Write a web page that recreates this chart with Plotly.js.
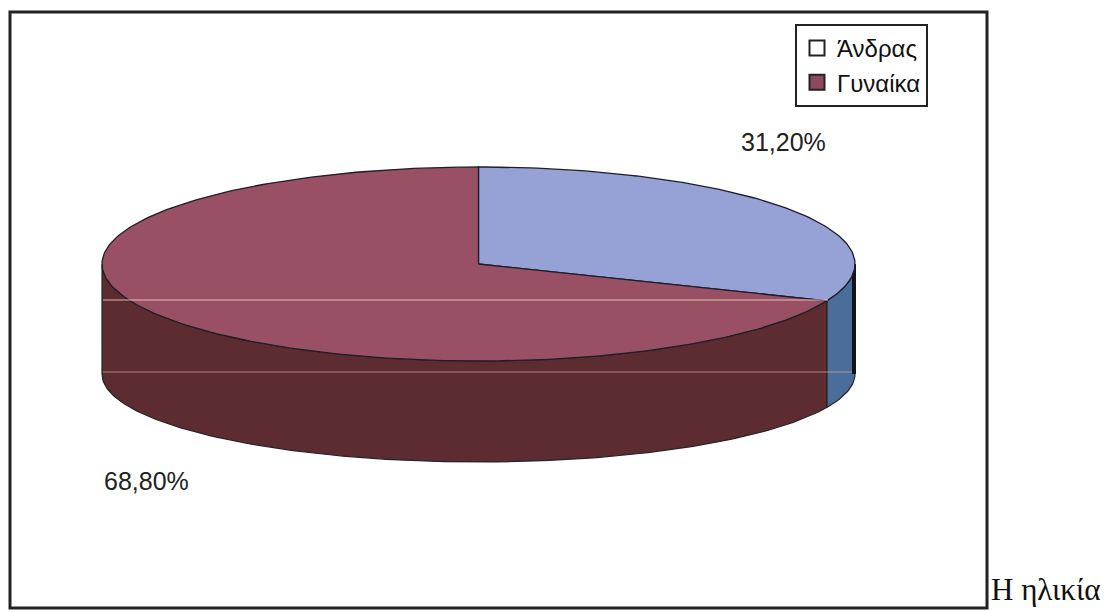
<!DOCTYPE html>
<html>
<head>
<meta charset="utf-8">
<script src="https://cdn.plot.ly/plotly-3.0.1.min.js"></script>
<style>html,body{margin:0;padding:0;background:#fff;}#chart{width:1109px;height:612px;}</style>
</head>
<body>
<div id="chart"></div>
<script>
// Data
const labels = ['Άνδρας', 'Γυναίκα'];
const values = [31.2, 68.8];
const sideTitle = 'Η ηλικία';

// Styles
const topColors = ['#96a1d6', '#9a5064'];
const sideColors = ['#4a6d99', '#5d2c30'];
const legendColors = ['#ffffff', '#8c4a5c'];
const labelPos = [[783, 142], [146, 481]];

// Geometry (pixel space)
const cx = 478.5, cy = 264, rx = 376.5, ry = 97;
const sideDepth = 110, bottomRy = 88;
function pt(deg) {
  const r = deg * Math.PI / 180;
  return [cx + rx * Math.sin(r), cy - ry * Math.cos(r)];
}
function ptB(deg) {
  const r = deg * Math.PI / 180;
  return [cx + rx * Math.sin(r), cy + sideDepth - bottomRy * Math.cos(r)];
}
function arc(a0, a1, f) {
  const pts = [];
  const n = Math.max(2, Math.ceil(Math.abs(a1 - a0)));
  for (let i = 0; i <= n; i++) pts.push(f(a0 + (a1 - a0) * i / n));
  return pts;
}

const total = values.reduce((a, b) => a + b, 0);
const sides = [], tops = [], annotations = [];
let start = 0;
values.forEach((v, i) => {
  const a0 = start, a1 = start + v / total * 360;
  start = a1;
  // visible front side
  const s0 = Math.max(a0, 90), s1 = Math.min(a1, 270);
  if (s1 > s0) {
    const upper = arc(s0, s1, pt);
    const lower = arc(s1, s0, ptB);
    const poly = upper.concat(lower);
    poly.push(upper[0]);
    sides.push({
      type: 'scatter', mode: 'lines', fill: 'toself',
      x: poly.map(p => p[0]), y: poly.map(p => p[1]),
      fillcolor: sideColors[i], line: {color: '#2a2226', width: 1.2},
      hoverinfo: 'skip', showlegend: false
    });
  }
  const poly = [[cx, cy]].concat(arc(a0, a1, pt));
  poly.push([cx, cy]);
  tops.push({
    type: 'scatter', mode: 'lines', fill: 'toself',
    x: poly.map(p => p[0]), y: poly.map(p => p[1]),
    fillcolor: topColors[i], line: {color: '#1e1e28', width: 1.3},
    hoverinfo: 'skip', showlegend: false
  });
  annotations.push({
    x: labelPos[i][0], y: labelPos[i][1], xref: 'x', yref: 'y',
    text: (v / total * 100).toFixed(2).replace('.', ',') + '%',
    showarrow: false, font: {family: 'Arial, Liberation Sans', size: 25, color: '#222'}
  });
});

// thick dark silhouette edge on the right of the cylinder
const edgeTop = pt(90), edgeBot = ptB(90);
const edge = {
  type: 'scatter', mode: 'lines',
  x: [edgeTop[0] - 1, edgeBot[0] - 1], y: [edgeTop[1], edgeBot[1]],
  line: {color: '#151515', width: 4}, hoverinfo: 'skip', showlegend: false
};

const legendTraces = labels.map((l, i) => ({
  type: 'scatter', mode: 'markers', x: [null], y: [null], name: l,
  marker: {symbol: 'square', size: 15, color: legendColors[i], line: {color: '#222', width: 2}},
  hoverinfo: 'skip'
}));

annotations.push({
  x: 989, y: 589, xref: 'x', yref: 'y', xanchor: 'left', yanchor: 'middle',
  text: sideTitle, showarrow: false,
  font: {family: 'Liberation Serif, DejaVu Serif, serif', size: 31, color: '#111'}
});

const layout = {
  width: 1109, height: 612,
  margin: {l: 0, r: 0, t: 0, b: 0},
  paper_bgcolor: '#ffffff', plot_bgcolor: '#ffffff',
  xaxis: {range: [0, 1109], visible: false, fixedrange: true},
  yaxis: {range: [612, 0], visible: false, fixedrange: true},
  showlegend: true,
  legend: {
    x: 795 / 1109, y: 1 - 24 / 612, xanchor: 'left', yanchor: 'top',
    bordercolor: '#222', borderwidth: 2, bgcolor: '#ffffff',
    font: {family: 'Arial, Liberation Sans', size: 24, color: '#111'},
    itemwidth: 30, tracegroupgap: 0
  },
  shapes: [
    {type: 'rect', xref: 'x', yref: 'y', x0: 10, y0: 12, x1: 987, y1: 608,
     line: {color: '#222', width: 3}, fillcolor: 'rgba(0,0,0,0)', layer: 'below'},
    {type: 'line', xref: 'x', yref: 'y', x0: 103, x1: 828, y0: 300, y1: 300,
     line: {color: 'rgba(240,200,190,0.45)', width: 2}},
    {type: 'line', xref: 'x', yref: 'y', x0: 103, x1: 852, y0: 372, y1: 372,
     line: {color: 'rgba(220,170,150,0.35)', width: 2}}
  ],
  annotations: annotations
};

Plotly.newPlot('chart', sides.concat([edge]).concat(tops).concat(legendTraces), layout, {displayModeBar: false, staticPlot: true});
</script>
</body>
</html>
